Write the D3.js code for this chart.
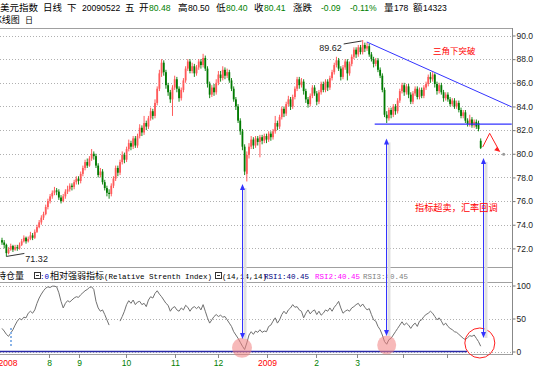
<!DOCTYPE html>
<html><head><meta charset="utf-8">
<script src="https://cdn.jsdelivr.net/npm/d3@7"></script>
<style>body{margin:0;background:#fff}svg{display:block}</style>
</head><body><svg id="c" width="540" height="368"></svg>
<script>
const closeP=[72.5,72.3,71.6,71.9,72.2,71.9,72.1,72.0,72.3,72.6,
72.9,72.6,72.8,73.1,72.9,73.4,73.8,74.2,74.6,74.9,
75.5,76.0,76.4,76.7,76.9,76.8,76.3,76.0,76.4,76.8,
77.0,77.3,77.2,77.6,77.9,77.7,78.3,78.8,79.3,79.0,
79.6,80.0,79.8,79.0,78.2,78.5,77.6,77.1,76.7,76.6,
77.3,77.9,78.8,78.4,79.3,79.9,79.5,80.4,80.9,80.6,
81.3,80.7,81.5,82.2,81.8,82.6,82.3,83.0,83.6,83.2,
84.3,85.5,86.8,87.7,86.9,85.8,85.2,84.6,85.6,86.3,
85.5,84.7,85.4,86.2,87.2,87.8,87.0,87.4,86.8,87.3,
87.8,87.5,88.1,87.2,85.9,85.0,85.6,85.2,86.0,86.7,
86.4,87.1,86.6,86.9,86.2,85.5,84.6,84.0,82.8,81.9,
80.6,78.5,79.9,80.6,81.2,80.7,81.3,81.0,81.4,81.1,
81.5,81.2,81.7,81.4,81.9,82.6,82.3,83.1,83.8,83.4,
84.2,84.6,84.0,84.8,85.5,86.3,85.8,86.1,85.3,84.6,
84.2,84.9,85.6,85.1,84.4,85.2,85.9,85.4,86.1,85.6,
86.4,86.9,87.5,87.9,87.2,86.5,87.3,87.8,86.8,87.6,
88.2,88.8,88.4,89.0,88.6,89.2,88.9,89.1,88.4,88.0,
87.6,87.9,87.1,86.6,85.4,83.3,83.0,83.7,83.3,84.0,
83.6,84.5,85.3,85.8,85.2,85.7,85.0,84.4,85.1,85.5,
84.8,85.4,84.9,85.6,85.9,86.5,86.3,86.7,85.9,85.3,
85.8,85.2,84.7,85.0,84.6,84.2,84.5,84.0,84.3,83.7,
83.2,83.5,82.8,82.5,82.9,82.4,82.7,82.3,82.1,80.5];
const openP=[72.7,72.5,72.3,71.6,71.9,72.2,71.9,72.1,72.0,72.3,
72.6,72.9,72.6,72.8,73.1,72.9,73.4,73.8,74.2,74.6,
74.9,75.5,76.0,76.4,76.7,76.9,76.8,76.3,76.0,76.4,
76.8,77.0,77.3,77.2,77.6,77.9,77.7,78.3,78.8,79.3,
79.0,79.6,80.0,79.8,79.0,78.2,78.5,77.6,77.1,76.7,
76.6,77.3,77.9,78.8,78.4,79.3,79.9,79.5,80.4,80.9,
80.6,81.3,80.7,81.5,82.2,81.8,82.6,82.3,83.0,83.6,
83.2,84.3,85.5,86.8,87.7,86.9,85.8,85.2,84.6,85.6,
86.3,85.5,84.7,85.4,86.2,87.2,87.8,87.0,87.4,86.8,
87.3,87.8,87.5,88.1,87.2,85.9,85.0,85.6,85.2,86.0,
86.7,86.4,87.1,86.6,86.9,86.2,85.5,84.6,84.0,82.8,
81.9,80.6,78.3,79.9,80.6,81.2,80.7,81.3,81.0,81.4,
81.1,81.5,81.2,81.7,81.4,81.9,82.6,82.3,83.1,83.8,
83.4,84.2,84.6,84.0,84.8,85.5,86.3,85.8,86.1,85.3,
84.6,84.2,84.9,85.6,85.1,84.4,85.2,85.9,85.4,86.1,
85.6,86.4,86.9,87.5,87.9,87.2,86.5,87.3,87.8,86.8,
87.6,88.2,88.8,88.4,89.0,88.6,89.2,88.9,89.1,88.4,
88.0,87.6,87.9,87.1,86.6,85.4,83.3,83.0,83.7,83.3,
84.0,83.6,84.5,85.3,85.8,85.2,85.7,85.0,84.4,85.1,
85.5,84.8,85.4,84.9,85.6,85.9,86.5,86.3,86.7,85.9,
85.3,85.8,85.2,84.7,85.0,84.6,84.2,84.5,84.0,84.3,
83.7,83.2,83.5,82.8,82.5,82.9,82.4,82.7,82.6,81.1];
const highP=[72.9,72.7,72.4,72.1,72.4,72.3,72.3,72.3,72.5,72.8,
73.1,73.0,73.0,73.4,73.3,73.6,74.0,74.4,74.8,75.1,
75.7,76.2,76.6,76.9,77.2,77.1,77.0,76.5,76.6,77.0,
77.3,77.5,77.5,77.8,78.1,78.1,78.5,79.0,79.5,79.6,
79.8,80.4,80.2,80.0,79.2,78.8,78.7,77.8,77.3,77.0,
77.5,78.1,79.0,79.0,79.5,80.2,80.1,80.6,81.2,81.1,
81.5,81.5,81.7,82.5,82.4,83.2,82.8,83.2,83.9,83.8,
84.6,85.7,87.1,88.0,87.9,87.1,86.0,85.4,85.8,86.6,
86.5,85.7,85.6,86.4,87.4,88.0,88.0,87.7,87.6,87.5,
88.0,88.0,88.45,88.3,87.4,86.1,85.8,85.9,86.3,87.0,
87.0,87.4,87.3,87.2,87.1,86.4,85.7,84.8,84.2,83.0,
82.1,80.8,80.2,80.9,81.5,81.4,81.5,81.5,81.6,81.6,
81.7,81.7,81.9,81.9,82.1,83.2,82.8,83.3,84.0,84.0,
84.4,84.9,84.8,85.0,85.7,86.5,86.5,86.4,86.3,85.5,
84.8,85.1,85.8,85.8,85.3,85.4,86.1,86.1,86.3,86.3,
86.6,87.1,87.7,88.2,88.1,87.4,87.5,88.0,88.0,87.8,
88.4,89.0,89.0,89.2,89.2,89.62,89.4,89.4,89.3,88.6,
88.2,88.1,88.1,87.3,86.8,85.6,83.6,83.9,83.9,84.2,
84.2,84.7,85.5,86.0,86.0,85.9,85.9,85.2,85.3,85.7,
85.7,85.6,85.6,85.8,86.1,86.7,86.9,86.9,86.8,86.1,
86.0,86.0,85.4,85.2,85.2,84.8,84.7,84.7,84.5,84.5,
83.9,83.7,83.7,83.0,83.3,83.1,82.9,82.9,82.8,81.3];
const lowP=[72.3,72.0,71.32,71.5,71.8,71.7,71.8,71.8,71.9,72.2,
72.5,72.4,72.5,72.7,72.7,72.8,73.3,73.7,74.0,74.4,
74.8,75.3,75.8,76.2,76.5,76.5,76.1,75.8,75.9,76.2,
76.6,76.8,76.9,77.0,77.4,77.4,77.5,78.1,78.6,78.8,
78.9,79.4,79.5,78.8,78.0,78.0,77.4,76.9,76.4,76.2,
76.4,77.1,77.7,78.1,78.2,79.1,79.2,79.3,80.2,80.3,
80.4,80.5,80.5,81.3,81.5,81.6,82.0,82.1,82.8,82.9,
83.0,84.1,85.3,86.5,86.6,85.5,84.9,84.3,83.2,85.4,
85.2,84.4,84.5,85.2,86.0,87.0,86.8,86.8,86.5,86.6,
87.1,87.2,87.3,87.0,85.6,84.7,84.8,84.9,85.0,85.8,
86.1,86.2,86.3,86.4,86.0,85.3,84.4,83.7,82.6,81.6,
80.3,78.2,77.66,79.6,80.4,80.4,80.5,80.7,79.7,80.8,
80.9,80.9,81.0,81.1,81.2,81.7,82.0,82.1,82.9,83.1,
83.2,84.0,83.7,83.8,84.6,85.3,85.5,85.6,85.0,84.3,
83.9,84.0,84.7,84.9,84.1,84.2,85.0,85.2,85.2,85.3,
85.4,86.2,86.7,87.3,87.0,86.2,86.3,87.1,86.2,86.6,
87.4,88.0,88.1,88.2,88.4,88.4,88.6,88.7,88.2,87.8,
87.3,87.4,86.9,86.4,85.2,83.1,82.6,82.8,83.0,83.1,
83.3,83.4,84.3,85.1,84.9,85.0,84.7,84.2,84.2,84.9,
84.6,84.6,84.7,84.7,85.4,85.7,86.0,86.1,85.6,85.0,
85.1,85.0,84.4,84.5,84.4,84.0,84.0,83.8,83.8,83.5,
83.0,83.0,82.6,82.3,82.3,82.2,82.2,82.1,81.9,80.4];
const rsiV=[35,31,26,23,28,33,40,46,50,48,
52,51,58,61,58,63,73,81,87,92,
96,98,97,99,99,98,89,76,66,73,
77,75,78,81,83,82,86,89,92,94,
97,98,94,76,66,61,63,56,48,40,
null,null,null,null,46,53,61,71,77,73,
78,71,75,76,71,73,68,78,83,81,
88,92,87,83,78,73,70,61,66,68,
63,61,66,63,70,67,61,66,68,65,
68,63,71,61,51,43,48,53,56,53,
55,52,53,48,43,38,30,25,20,14,
8,3,13,25,30,26,31,29,33,29,
31,30,38,40,46,51,43,48,56,61,
57,63,66,71,67,68,63,61,51,58,
63,57,61,63,56,61,55,58,63,61,
66,61,67,71,76,66,58,61,63,61,
66,68,71,73,68,72,67,63,65,56,
48,46,38,33,25,15,11,18,20,25,
30,35,40,45,40,43,40,35,40,43,
38,46,48,53,56,58,61,58,53,48,
51,46,40,43,38,35,33,30,29,26,
23,20,18,21,24,23,25,20,15,8];
const priceTicks=[90,88,86,84,82,80,78,76,74,72];
const rsiTicks=[100,50,0];
const monthIdx=[2.7,21.5,35.2,56.7,79.1,98.8,121.2,143.6,162.3,183.4,203.5];
const monthLabels=["2008","8","9","10","11","12","2009","2","3","",""];

const svg=d3.select("#c");
const W=512;
const N=closeP.length;
const x=d3.scaleLinear().domain([0,N-1]).range([2,480.7]);
const yP=d3.scaleLinear().domain([72,90]).range([248.4,35.5]);
const yR=d3.scaleLinear().domain([0,100]).range([351.5,285.5]);
const CJK="'Noto Sans CJK SC', sans-serif";
const NUM="'Liberation Sans', Arial, sans-serif";
const MONO="'Liberation Mono', monospace";
const GREEN="#008000", RED="#ff0000";

function txt(t,xx,yy,opt){opt=opt||{};
 return svg.append("text").attr("x",xx).attr("y",yy).text(t)
  .attr("font-family",opt.f||CJK).attr("font-size",opt.s||10)
  .attr("fill",opt.c||"#000").attr("text-anchor",opt.a||"start");}

// header line 1
const hb=10.5, hs=9.5, ns=8.6;
txt("美元指数",0,hb,{s:hs});txt("日线",43,hb,{s:hs});txt("下",67,hb,{s:hs});
txt("20090522",82,hb,{f:NUM,s:ns});txt("五",125,hb,{s:hs});
txt("开",139,hb,{s:hs});txt("80.48",149,hb,{f:NUM,s:ns,c:GREEN});
txt("高",178,hb,{s:hs});txt("80.50",188,hb,{f:NUM,s:ns});
txt("低",216,hb,{s:hs});txt("80.40",226,hb,{f:NUM,s:ns,c:GREEN});
txt("收",254,hb,{s:hs});txt("80.41",264,hb,{f:NUM,s:ns,c:GREEN});
txt("涨跌",293,hb,{s:hs});txt("-0.09",321,hb,{f:NUM,s:ns,c:GREEN});
txt("-0.11%",350,hb,{f:NUM,s:ns,c:GREEN});
txt("量",384,hb,{s:hs});txt("178",394,hb,{f:NUM,s:ns});
txt("额",413,hb,{s:hs});txt("14323",423,hb,{f:NUM,s:ns});
// header line 2
txt("K线图",-4,23,{s:9});
txt("日",25,23,{s:8});

// frame lines
function hl(y1,x1,x2,c){svg.append("line").attr("x1",x1).attr("x2",x2).attr("y1",y1).attr("y2",y1).attr("stroke",c).attr("stroke-width",1);}
hl(28.5,0,W,"#a0a0a0");
hl(267.5,0,W,"#a0a0a0");
hl(282.5,0,W,"#a0a0a0");
hl(354.5,0,W,"#a0a0a0");

// grid
const grid=svg.append("g");
grid.selectAll("line.pg").data(priceTicks).join("line")
 .attr("x1",0).attr("x2",W).attr("y1",d=>Math.round(yP(d))+0.5).attr("y2",d=>Math.round(yP(d))+0.5)
 .attr("stroke","#b0b0b0").attr("stroke-dasharray","1,2");
grid.selectAll("line.rg").data(rsiTicks).join("line")
 .attr("x1",0).attr("x2",W).attr("y1",d=>Math.round(yR(d))+0.5).attr("y2",d=>Math.round(yR(d))+0.5)
 .attr("stroke","#b0b0b0").attr("stroke-dasharray","1,2");
// blue zero line
svg.append("line").attr("x1",0).attr("x2",467).attr("y1",Math.round(yR(0))-0.5).attr("y2",Math.round(yR(0))-0.5)
 .attr("stroke","#2828a8").attr("stroke-width",1.3);

// right axes
const axP=d3.axisRight(yP).tickValues(priceTicks).tickSize(3).tickPadding(1).tickFormat(d3.format(".1f"));
const gP=svg.append("g").attr("transform","translate(512.5,0)").call(axP);
const axR=d3.axisRight(yR).tickValues(rsiTicks).tickSize(3).tickPadding(1).tickFormat(d3.format("d"));
const gR=svg.append("g").attr("transform","translate(512.5,0)").call(axR);
[gP,gR].forEach(g=>{g.select(".domain").remove();
 g.selectAll("line").attr("stroke","#777");
 g.selectAll("text").attr("font-family",NUM).attr("font-size",8.5).attr("fill","#222");});
svg.append("line").attr("x1",512.5).attr("x2",512.5).attr("y1",28).attr("y2",355).attr("stroke","#888");

// bottom month axis
const mg=svg.append("g");
monthIdx.forEach((m,k)=>{
 const xx=Math.round(x(m))+0.5;
 if(k>0) mg.append("line").attr("x1",xx).attr("x2",xx).attr("y1",354).attr("y2",358).attr("stroke","#888");
 if(monthLabels[k]) mg.append("text").attr("x",k===0?8:xx).attr("y",366).attr("text-anchor","middle")
   .attr("font-family",NUM).attr("font-size",8.5)
   .attr("fill",monthLabels[k].length===4?RED:GREEN).text(monthLabels[k]);
});

// candles
const idx=d3.range(N);
const cg=svg.append("g");
cg.selectAll("line.w").data(idx).join("line")
 .attr("x1",i=>x(i)).attr("x2",i=>x(i)).attr("y1",i=>yP(highP[i])).attr("y2",i=>yP(lowP[i]))
 .attr("stroke",i=>closeP[i]>=openP[i]?"#ff4848":"#007a00").attr("stroke-width",0.9);
cg.selectAll("rect.b").data(idx).join("rect")
 .attr("x",i=>x(i)-0.9).attr("width",1.8)
 .attr("y",i=>yP(Math.max(openP[i],closeP[i])))
 .attr("height",i=>Math.max(0.8,Math.abs(yP(openP[i])-yP(closeP[i]))))
 .attr("fill",i=>closeP[i]>=openP[i]?"#ff5a5a":"#007a00");

// RSI line
const rl=d3.line().defined(d=>d!=null).x((d,i)=>x(i)).y(d=>yR(d));
svg.append("path").datum(rsiV).attr("d",rl).attr("fill","none").attr("stroke","#707070").attr("stroke-width",1);
svg.append("line").attr("x1",11).attr("x2",11).attr("y1",328).attr("y2",348)
 .attr("stroke","#8ab4e8").attr("stroke-width",2).attr("stroke-dasharray","2,2");

// RSI header
const rb=278.5;
txt("持仓量",-3,rb,{s:9});
function box(bx){svg.append("rect").attr("x",bx+0.5).attr("y",272.5).attr("width",6).attr("height",6).attr("fill","none").attr("stroke","#333");
 svg.append("line").attr("x1",bx+2).attr("x2",bx+5).attr("y1",275.5).attr("y2",275.5).attr("stroke","#333");}
box(34);
txt(":0",40,rb,{f:MONO,s:7.5,c:"#0000c0"});
txt("相对强弱指标",50,rb,{s:9});
txt("(Relative Strenth Index)",104,rb,{f:MONO,s:7.5});
box(215);
txt("(14,14,14)",222,rb,{f:MONO,s:7.5});
txt("RSI1:40.45",264,rb,{f:MONO,s:7.5,c:"#000080"});
txt("RSI2:40.45",315,rb,{f:MONO,s:7.5,c:"#ff00ff"});
txt("RSI3:40.45",363,rb,{f:MONO,s:7.5,c:"#808080"});

// annotations (in data units)
const trendLine=[[166.9,89.45],[233.2,83.96]];
const supportLine=[[170.5,82.5],[233.2,82.5]];
const arrows=[{i:109.8,p:77.45,r:19},{i:175.6,p:81.3,r:23.5},{i:220,p:79.65,r:20.5}];
const pinkCircles=[{i:109.8,r:5.5,rad:10},{i:176,r:9.8,rad:9.5}];
const redCircle={i:218.6,r:12.9,rad:15};
const redArrow=[[219.9,80.57],[223.1,81.73],[227.7,80.18]];
const hiLabel={i:165,p:89.62}, loLabel={i:2,p:71.32};

const BLUE="#3333ff";
const lineG=d3.line().x(d=>x(d[0])).y(d=>yP(d[1]));
svg.append("path").attr("d",lineG(trendLine)).attr("stroke",BLUE).attr("fill","none").attr("stroke-width",1);
svg.append("path").attr("d",lineG(supportLine)).attr("stroke",BLUE).attr("fill","none").attr("stroke-width",1.2);

// pink circles
pinkCircles.forEach(c=>svg.append("circle").attr("cx",x(c.i)).attr("cy",yR(c.r)).attr("r",c.rad)
 .attr("fill","#f08080").attr("fill-opacity",0.55));
svg.append("circle").attr("cx",x(redCircle.i)).attr("cy",yR(redCircle.r)).attr("r",redCircle.rad)
 .attr("fill","none").attr("stroke","#ff2020").attr("stroke-width",1);

// vertical double arrows
arrows.forEach(a=>{
 const ax=Math.round(x(a.i))+0.5, y1=yP(a.p), y2=yR(a.r);
 svg.append("line").attr("x1",ax+2.5).attr("x2",ax+2.5).attr("y1",y1+4).attr("y2",y2).attr("stroke","#e0e0e0").attr("stroke-width",3);
 svg.append("line").attr("x1",ax).attr("x2",ax).attr("y1",y1+2).attr("y2",y2-2).attr("stroke",BLUE).attr("stroke-width",1);
 svg.append("path").attr("d",`M${ax},${y1}l-2.5,6h5z`).attr("fill",BLUE);
 svg.append("path").attr("d",`M${ax},${y2}l-2.5,-6h5z`).attr("fill",BLUE);
});

// red arrow
svg.append("path").attr("d",lineG(redArrow)).attr("stroke","#ff2020").attr("fill","none").attr("stroke-width",1);
{const e=redArrow[2], ex=x(e[0]), ey=yP(e[1]);
 svg.append("path").attr("d",`M${ex},${ey}l-5.5,-1.5l3,-3.5z`).attr("fill","#ff2020");
 svg.append("circle").attr("cx",ex+4).attr("cy",ey+2.5).attr("r",1.5).attr("fill","#999");}

// hi/lo labels
{const hx=x(hiLabel.i), hy=yP(hiLabel.p);
 svg.append("line").attr("x1",hx-19).attr("y1",hy+4).attr("x2",hx-1).attr("y2",hy+1).attr("stroke","#333");
 txt("89.62",hx-21,hy+11,{f:NUM,s:9,a:"end",c:"#222"});
 const lx=x(loLabel.i), ly=yP(loLabel.p);
 svg.append("line").attr("x1",lx).attr("y1",ly).attr("x2",lx+18).attr("y2",ly-3).attr("stroke","#333");
 txt("71.32",lx+19,ly+6,{f:NUM,s:9,c:"#222"});}

txt("三角下突破",433,54,{s:8.5,c:RED});
txt("指标超卖，汇率回调",415,211,{s:9.2,c:RED});
</script></body></html>
